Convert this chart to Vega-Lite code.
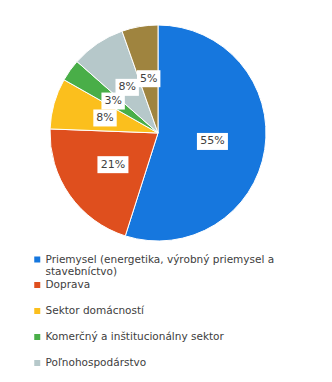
{
  "$schema": "https://vega.github.io/schema/vega-lite/v6.json",
  "width": 316,
  "height": 266,
  "autosize": {"type": "none"},
  "padding": {"left": 0, "top": 0, "right": 16, "bottom": 116},
  "background": "white",
  "config": {"view": {"stroke": null}, "font": "DejaVu Sans"},
  "data": {"values": [
    {"sector": "Priemysel (energetika, výrobný priemysel a stavebníctvo)", "value": 54.9, "order": 1},
    {"sector": "Doprava", "value": 20.7, "order": 2},
    {"sector": "Sektor domácností", "value": 7.6, "order": 3},
    {"sector": "Komerčný a inštitucionálny sektor", "value": 3.3, "order": 4},
    {"sector": "Poľnohospodárstvo", "value": 8.1, "order": 5},
    {"sector": "Ostatné", "value": 5.4, "order": 6}
  ]},
  "transform": [
    {"joinaggregate": [{"op": "sum", "field": "value", "as": "total"}]},
    {"window": [{"op": "sum", "field": "value", "as": "cum"}], "sort": [{"field": "order"}], "frame": [null, 0]},
    {"calculate": "2*PI*(datum.cum - datum.value/2)/datum.total", "as": "mid"},
    {"calculate": "0.51*sin(datum.mid)", "as": "lx"},
    {"calculate": "0.51*cos(datum.mid)", "as": "ly"},
    {"calculate": "format(datum.value, '.0f') + '%'", "as": "label"}
  ],
  "layer": [
    {
      "mark": {"type": "arc", "outerRadius": 108, "stroke": "white", "strokeWidth": 1},
      "encoding": {
        "theta": {"field": "value", "type": "quantitative", "stack": true},
        "order": {"field": "order", "type": "quantitative"},
        "color": {
          "field": "sector",
          "type": "nominal",
          "scale": {
            "domain": ["Priemysel (energetika, výrobný priemysel a stavebníctvo)", "Doprava", "Sektor domácností", "Komerčný a inštitucionálny sektor", "Poľnohospodárstvo", "Ostatné"],
            "range": ["#1677de", "#df4f1e", "#fbbf1d", "#49ae48", "#b6c8ca", "#9f843f"]
          },
          "legend": {
            "title": null,
            "orient": "none",
            "legendX": 32,
            "legendY": 253,
            "direction": "vertical",
            "padding": 0,
            "symbolType": "square",
            "symbolSize": 36,
            "symbolStrokeWidth": 0,
            "labelFont": "DejaVu Sans",
            "labelFontSize": 10.5,
            "labelColor": "#404040",
            "labelOffset": 3,
            "labelLimit": 300,
            "rowPadding": 0,
            "clipHeight": 26,
            "labelBaseline": "middle",
            "labelExpr": "datum.label == 'Priemysel (energetika, výrobný priemysel a stavebníctvo)' ? ['Priemysel (energetika, výrobný priemysel a', 'stavebníctvo)'] : datum.label",
            "encoding": {
              "labels": {"dy": {"condition": {"test": "datum.index === 0", "value": -6.5}, "value": -7}},
              "symbols": {"y": {"condition": {"test": "datum.index === 0", "value": 6.5}, "value": 6}}
            }
          }
        }
      }
    },
    {
      "mark": {"type": "point", "filled": true, "fill": "white", "opacity": 1, "strokeWidth": 0, "size": 400},
      "encoding": {
        "x": {"field": "lx", "type": "quantitative", "scale": {"domain": [-1.463, 1.463], "nice": false, "zero": false}, "axis": null},
        "y": {"field": "ly", "type": "quantitative", "scale": {"domain": [-1.2315, 1.2315], "nice": false, "zero": false}, "axis": null},
        "shape": {"condition": {"test": "length(datum.label) > 2", "value": "M-1.55,-0.85H1.55V0.85H-1.55Z"}, "value": "M-1.17,-0.85H1.17V0.85H-1.17Z"}
      }
    },
    {
      "mark": {"type": "text", "fontSize": 11, "color": "#404040", "font": "DejaVu Sans"},
      "encoding": {
        "x": {"field": "lx", "type": "quantitative"},
        "y": {"field": "ly", "type": "quantitative"},
        "text": {"field": "label", "type": "nominal"}
      }
    }
  ]
}
